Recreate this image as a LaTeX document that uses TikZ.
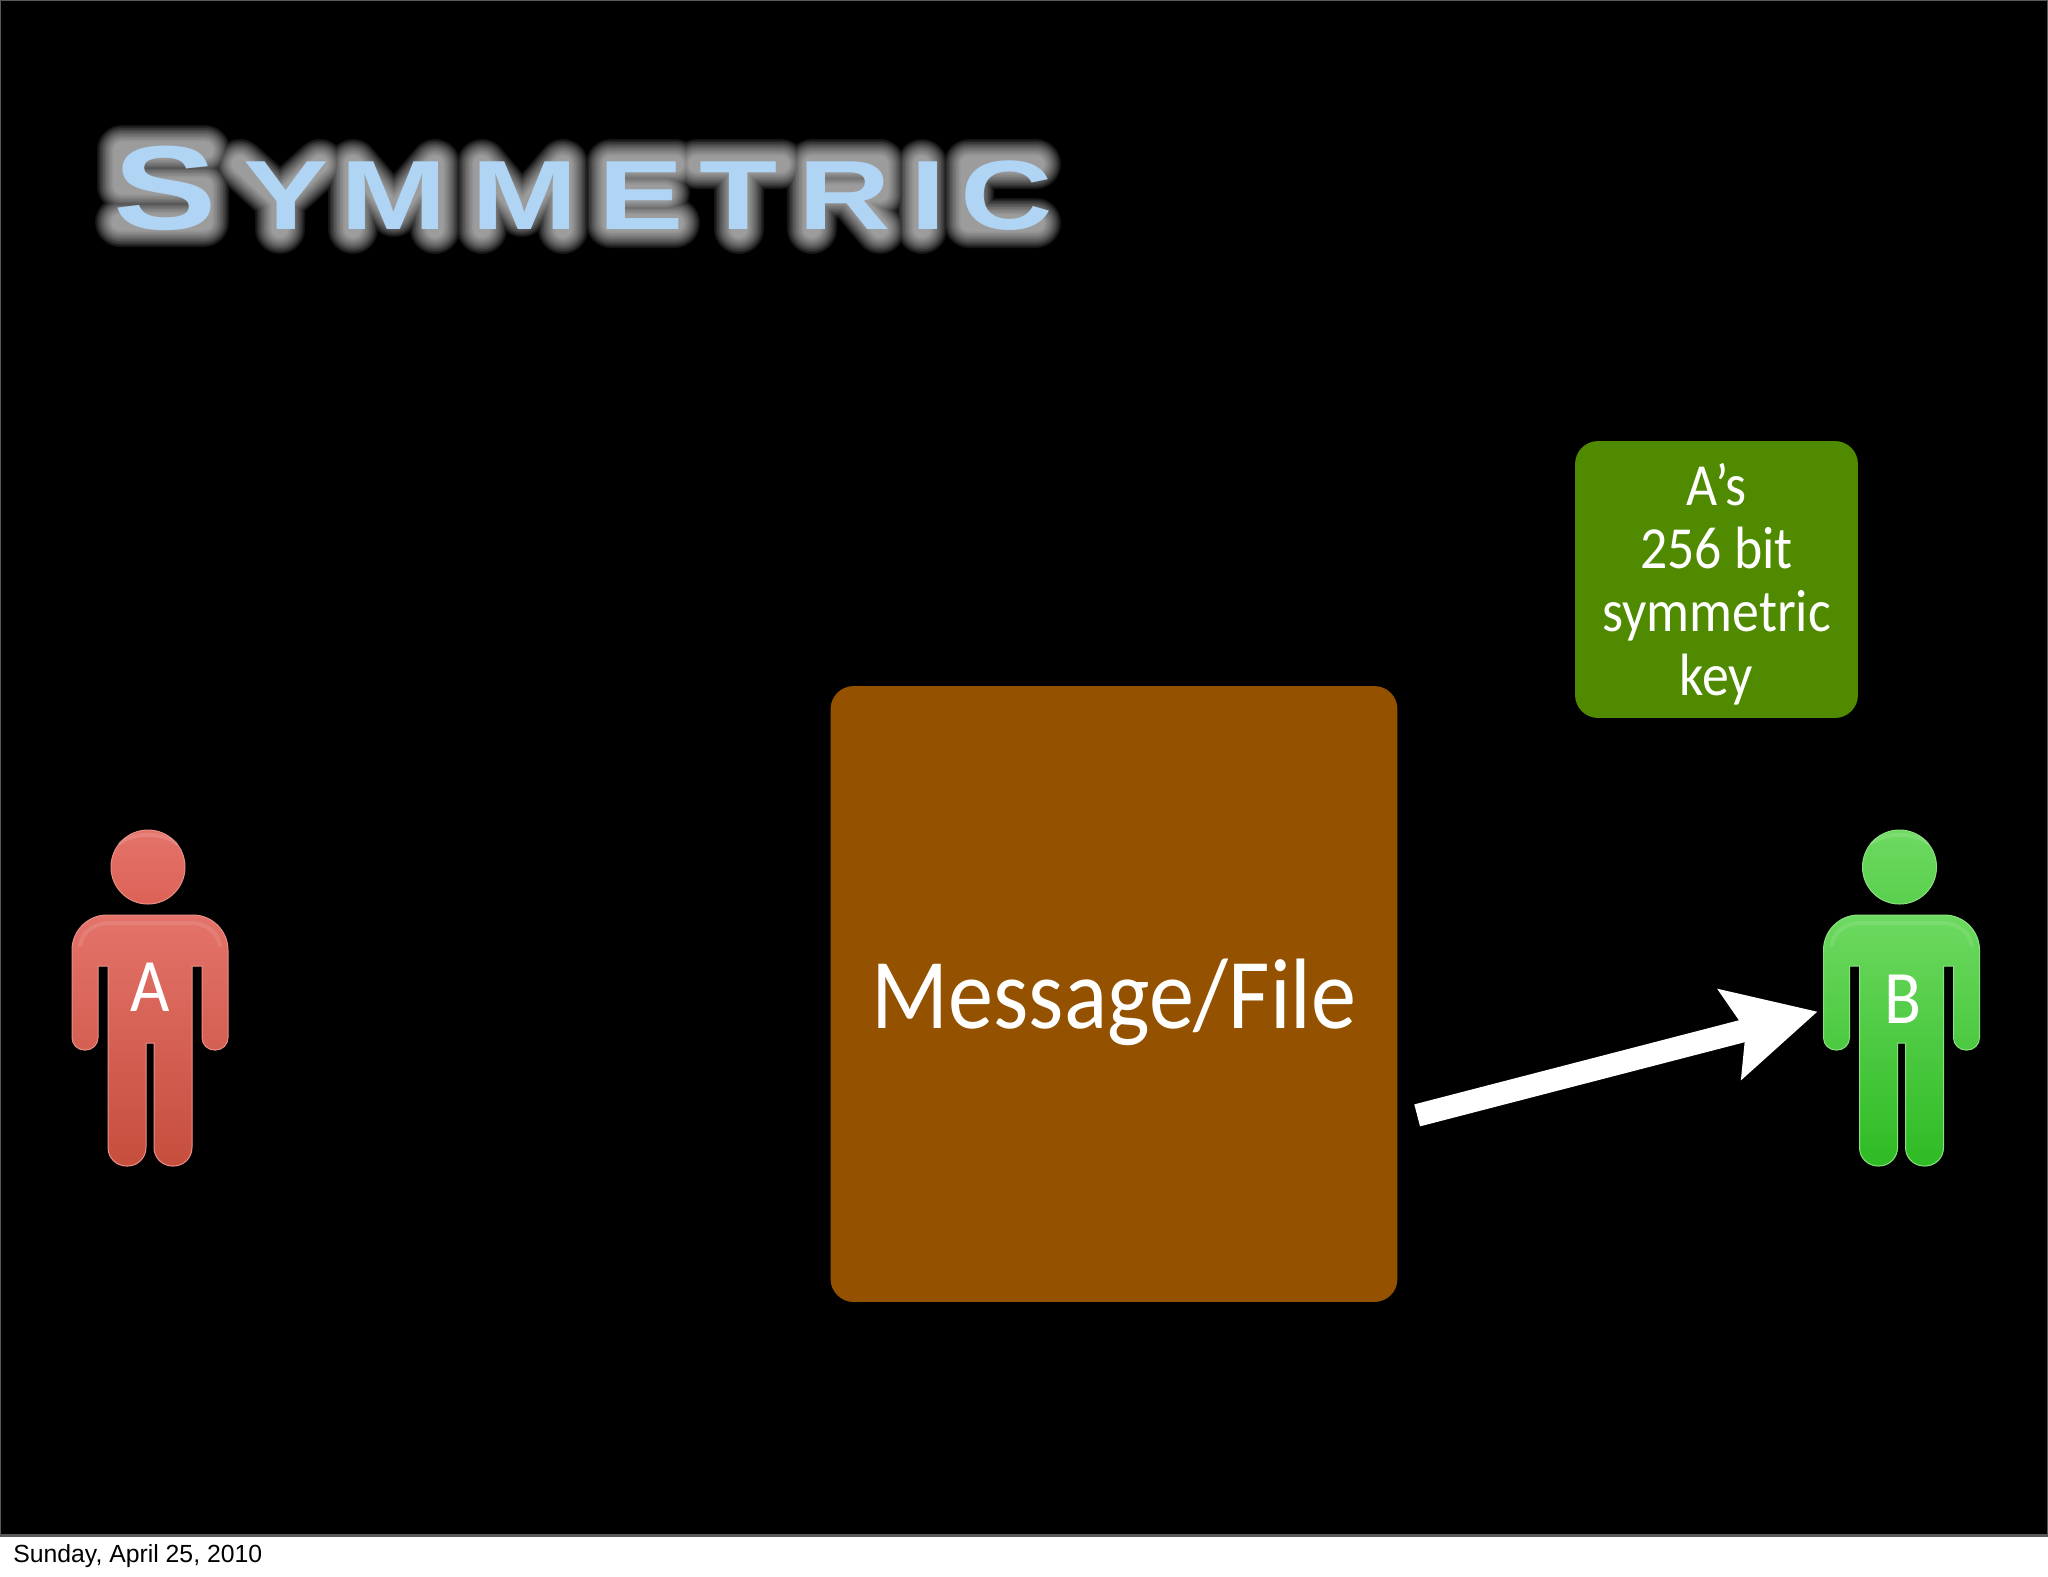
\documentclass[tikz,border=0pt]{standalone}
\usepackage{fontspec}
\usepackage{xcolor}
\usepackage{tikz}
\usetikzlibrary{arrows.meta}
\setmainfont[FakeStretch=0.9]{Carlito}
\newfontfamily\titlefont[FakeStretch=1.3]{Liberation Sans}
\newfontfamily\datefont{Liberation Sans}
\definecolor{mocha}{HTML}{945200}
\definecolor{fern}{HTML}{4F8A00}
\definecolor{titleblue}{HTML}{B0D4F4}
\definecolor{redtop}{HTML}{E4736A}
\definecolor{redmid}{HTML}{DC6055}
\definecolor{redlow}{HTML}{C64E3D}
\definecolor{greentop}{HTML}{6DD960}
\definecolor{greenmid}{HTML}{58CF4C}
\definecolor{greenlow}{HTML}{2EBB24}
\tikzset{
	box/.style = {rounded corners = 0.46cm, inner sep = 0, text = white, align = center},
	tag/.style = {inner sep = 0, text = white, minimum width = 3.2cm, minimum height = 1cm, font = \fontsize{43}{48}\selectfont},
	glow/.style = {white, opacity = 0.08, line join = round, line cap = round},
}
% one standing figure: centre x, three body colours
\newcommand{\drawperson}[4]{
	\begin{scope}[shift = {(#1,0)}]
		\shade[top color = #2, bottom color = #3!90!#2, draw = #2!80!white, line width = 0.02cm] (-2,867) circle (37);
		\shade[top color = #2, middle color = #3, bottom color = #4, draw = #2!80!white, line width = 0.02cm]
			(-78,1000) [rounded corners = 20pt] -- (-78,915) -- (78,915) -- (78,1000)
			[rounded corners = 7pt] -- (78,1050) -- (52,1050) [sharp corners] -- (52,966) -- (42,966)
			[rounded corners = 10.5pt] -- (42,1166) -- (4,1166) [sharp corners] -- (4,1043) -- (-4,1043)
			[rounded corners = 10.5pt] -- (-4,1166) -- (-42,1166) [sharp corners] -- (-42,966) -- (-52,966)
			[rounded corners = 7pt] -- (-52,1050) -- (-78,1050) -- cycle;
		\draw[white, opacity = 0.12, line width = 0.08cm, line cap = round] (-30,843) .. controls (-15,832) and (11,832) .. (26,843);
		\draw[white, opacity = 0.1, line width = 0.08cm, line cap = round] (-70,945) .. controls (-66,928) and (-52,923) .. (-40,923) -- (40,923) .. controls (52,923) and (66,928) .. (70,945);
	\end{scope}
}
% centre lines of the title letters, for the light behind them
\newcommand{\titlebones}{
	(205,150) -- (122,150) -- (122,186) -- (204,186) -- (204,222) -- (120,222)
	(240,164) -- (280,200) -- (320,164) (280,200) -- (280,229)
	(353,229) -- (353,164) -- (394,212) -- (435,164) -- (435,229)
	(482,229) -- (482,164) -- (522,212) -- (563,164) -- (563,229)
	(675,164) -- (611,164) -- (611,223) -- (675,223) (611,193) -- (665,193)
	(697,164) -- (781,164) (739,164) -- (739,229)
	(812,229) -- (812,164) -- (880,164) -- (880,193) -- (812,193) (850,193) -- (880,229)
	(922,164) -- (922,229)
	(1036,164) -- (969,164) -- (969,223) -- (1036,223)
}
\begin{document}
\begin{tikzpicture}[x = 0.02cm, y = -0.02cm]
	\useasboundingbox (0,0) rectangle (2048,1576);
	\fill[white] (0,0) rectangle (2048,1576);
	\fill[black!65] (0,0) rectangle (2048,1537);
	\fill[black] (1,1) rectangle (2047,1534);

	\foreach \g in {1,...,12}
		\draw[glow, line width = {(14+3*\g)*0.02cm}] \titlebones;
	\node[anchor = base west, inner sep = 0, text = titleblue, font = \titlefont\bfseries] (title) at (113,229)
		{\fontsize{68}{68}\selectfont S\kern14.9pt\fontsize{56}{56}\selectfont Y\kern6.7pt M\kern14.1pt M\kern11.9pt E\kern8.9pt T\kern11.9pt R\kern11.2pt I\kern8.2pt C};

	\node[box, fill = fern, minimum width = 5.66cm, minimum height = 5.54cm, font = \fontsize{34}{36}\selectfont] (key) at (1716.5,579.5)
		{\raisebox{-4.6pt}[\height][\depth]{\begin{tabular}{@{}c@{}}A’s\\256 bit\\symmetric\\key\end{tabular}}};
	\node[box, fill = mocha, minimum width = 11.34cm, minimum height = 12.32cm, font = \fontsize{57}{60}\selectfont] (message) at (1114,994)
		{\raisebox{-4.5pt}[\height][\depth]{Message/File}};

	\drawperson{150}{redtop}{redmid}{redlow}
	\drawperson{1901.5}{greentop}{greenmid}{greenlow}
	\node[tag] (labelA) at (150,987) {A};
	\node[tag] (labelB) at (1903,999) {B};

	\draw[white, line width = 0.454cm, shorten < = 0.4cm, shorten > = 0.104cm, -{Stealth[length = 51pt, width = 51.6pt, inset = 8.8pt]}]
		(message.-24.0) -- (labelB.188.5);

	\node[anchor = base west, inner sep = 0, text = black, font = \datefont\fontsize{14.1}{16}\selectfont] (date) at (13,1562) {Sunday, April 25, 2010};
\end{tikzpicture}
\end{document}
